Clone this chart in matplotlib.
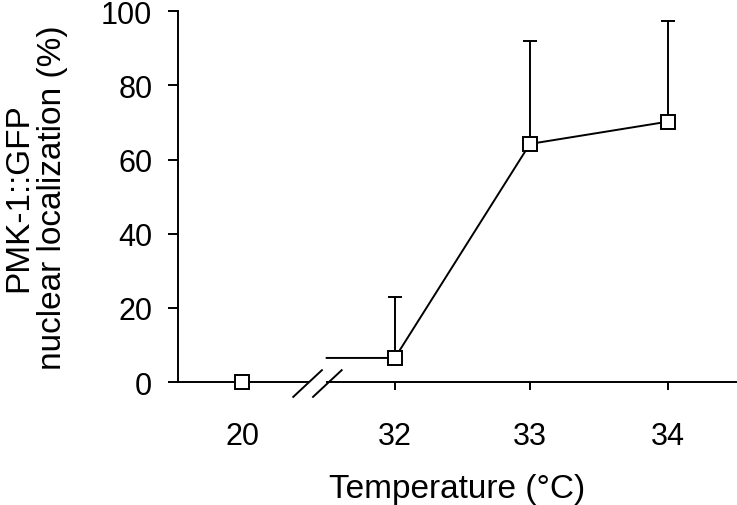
import matplotlib
matplotlib.use("Agg")
import matplotlib.pyplot as plt

plt.rcParams['font.family'] = ['Liberation Sans', 'DejaVu Sans']

# data
temps = ["20", "32", "33", "34"]
x_pos = [0.0, 1.12, 2.11, 3.12]          # broken axis: 20 sits left of the break
pct_mean = [0.0, 6.5, 64.2, 70.2]
pct_err_up = [0.0, 16.5, 27.8, 27.2]

# break geometry (axis units)
brk1, brk2 = 0.48, 0.625
xmin, xmax = -0.47, 3.62

fig = plt.figure(figsize=(7.37, 5.06), dpi=100)
ax = fig.add_axes([0.2415, 0.243, 0.757, 0.733])

lw = 1.4
# 20 degC point alone, then the line from the break on
ax.plot(x_pos[0], pct_mean[0], marker="s", ms=10, mfc="white", mec="black",
        mew=1.4, ls="none", zorder=5, clip_on=False)
ax.plot([brk2 - 0.005] + x_pos[1:], [pct_mean[1]] + pct_mean[1:], color="black",
        lw=lw, zorder=3)
ax.errorbar(x_pos[1:], pct_mean[1:], yerr=[[0] * 3, pct_err_up[1:]], fmt="none",
            ecolor="black", elinewidth=lw, capsize=5, capthick=lw, zorder=2)
ax.plot(x_pos[1:], pct_mean[1:], marker="s", ms=10, mfc="white", mec="black",
        mew=1.4, ls="none", zorder=5, clip_on=False)

# x axis line with a gap and break marks
ax.plot([xmin, brk1], [0, 0], color="black", lw=lw, clip_on=False, zorder=1)
ax.plot([brk2, xmax], [0, 0], color="black", lw=lw, clip_on=False, zorder=1)
for b in (brk1, brk2):
    ax.plot([b - 0.105, b + 0.105], [-4.0, 3.2], color="black", lw=lw,
            clip_on=False, zorder=1)

ax.set_xlim(xmin, xmax)
ax.set_ylim(0, 100)
ax.spines["top"].set_visible(False)
ax.spines["right"].set_visible(False)
ax.spines["bottom"].set_visible(False)
ax.spines["left"].set_linewidth(lw)

ax.set_xticks(x_pos)
ax.set_xticklabels(temps)
ax.set_yticks([0, 20, 40, 60, 80, 100])
ax.tick_params(axis="x", direction="out", length=6, width=lw, pad=22, labelsize=22)
ax.tick_params(axis="y", direction="out", length=7.5, width=lw, pad=11, labelsize=22)

ax.set_xlabel("Temperature (°C)", fontsize=24, labelpad=16)
ax.set_ylabel("PMK-1::GFP\nnuclear localization (%)", fontsize=24, labelpad=24,
              linespacing=1.1)

fig.savefig("out.png", dpi=100)
